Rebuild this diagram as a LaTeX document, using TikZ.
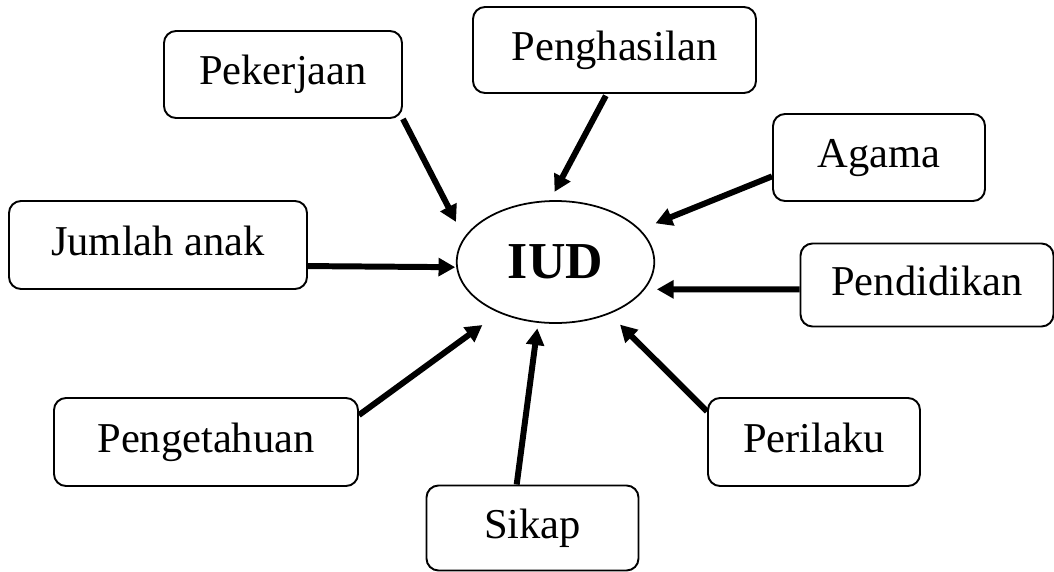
\documentclass[tikz,border=0pt]{standalone}
\usepackage{fontspec}
\setmainfont{Liberation Serif}
\usetikzlibrary{shapes.geometric,arrows.meta}

\begin{document}
\begin{tikzpicture}
\tikzstyle{faktor}=[rectangle,draw,rounded corners=0.24cm,line width=1.1pt,minimum height=1.74cm,inner sep=0pt,font=\fontsize{24.2pt}{29pt}\selectfont,text height=17.6pt,text depth=6.2pt]
\tikzstyle{pusat}=[ellipse,draw,line width=1pt,minimum width=3.95cm,minimum height=2.44cm,inner sep=0pt,font=\fontsize{29.5pt}{35pt}\selectfont\bfseries]
\tikzstyle{panah}=[-{Triangle[length=9.5pt,width=10pt]},line width=3.4pt]
\useasboundingbox (0,0) rectangle (21.08,11.42);
\node [pusat] (iud) at (11.11,6.18) {IUD};
\node [faktor,minimum width=4.76cm] (pek) at (5.66,9.93) {Pekerjaan};
\node [faktor,minimum width=5.66cm,minimum height=1.72cm] (pen) at (12.29,10.42) {Penghasilan};
\node [faktor,minimum width=4.24cm] (aga) at (17.58,8.27) {Agama};
\node [faktor,minimum width=5.96cm,minimum height=1.76cm] (jml) at (3.16,6.52) {Jumlah anak};
\node [faktor,minimum width=5.06cm,minimum height=1.66cm] (pdd) at (18.54,5.72) {Pendidikan};
\node [faktor,minimum width=6.08cm,minimum height=1.76cm] (pgt) at (4.12,2.58) {Pengetahuan};
\node [faktor,minimum width=4.24cm,minimum height=1.76cm] (prl) at (16.28,2.58) {Perilaku};
\node [faktor,minimum width=4.24cm,minimum height=1.70cm] (sik) at (10.65,0.86) {Sikap};
% panah ke IUD
\draw [panah,shorten >=0.35cm] (pek.south east) -- (iud.165.6);
\draw [panah,shorten >=0.19cm,shorten <=0.04cm] (pen.260) -- (iud.95.4);
\draw [panah,shorten >=0.33cm] (aga.190) -- (iud.21.4);
\draw [panah,shorten >=0.24cm] (pdd.182.3) -- (iud.-17.9);
\draw [panah,shorten >=0.02cm] (jml.-8.4) -- (iud.183);
\draw [panah,shorten >=0.41cm] (pgt.10.7) -- (iud.222.1);
\draw [panah,shorten >=0.30cm] (prl.164.7) -- (iud.-44.2);
\draw [panah,shorten >=0.11cm] (sik.110.2) -- (iud.254.9);
\end{tikzpicture}
\end{document}
